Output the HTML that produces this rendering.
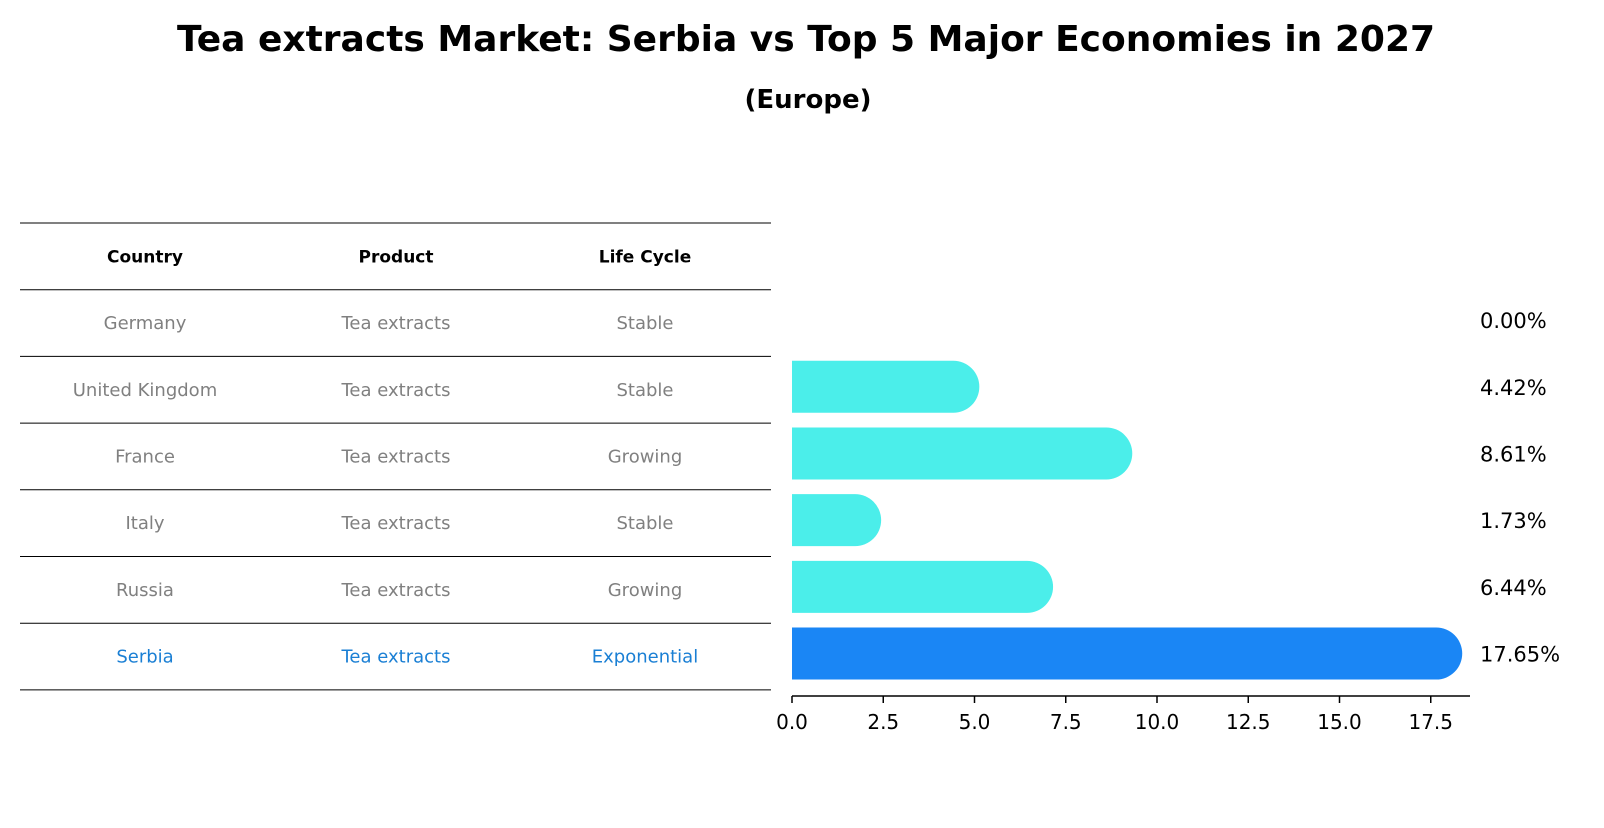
<!DOCTYPE html>
<html><head><meta charset="utf-8"><style>
body{margin:0;background:#fff;font-family:"Liberation Sans","DejaVu Sans",sans-serif;}
svg text{font-family:"DejaVu Sans","Liberation Sans",sans-serif;}
</style></head><body>
<svg width="1604" height="823" xmlns="http://www.w3.org/2000/svg">
<text x="806" y="51" text-anchor="middle" font-size="36" font-weight="bold">Tea extracts Market: Serbia vs Top 5 Major Economies in 2027</text>
<text x="808" y="108" text-anchor="middle" font-size="26" font-weight="bold">(Europe)</text>
<g id="table"></g>
<g id="bars"></g>
</svg>
<script>
const countries=["Germany","United Kingdom","France","Italy","Russia","Serbia"];
const products=["Tea extracts","Tea extracts","Tea extracts","Tea extracts","Tea extracts","Tea extracts"];
const lifecycles=["Stable","Stable","Growing","Stable","Growing","Exponential"];
const values=[0.00,4.42,8.61,1.73,6.44,17.65];
const ticks=[0,2.5,5,7.5,10,12.5,15,17.5];
const NS="http://www.w3.org/2000/svg";
function mk(t,a,p){const e=document.createElementNS(NS,t);for(const k in a)e.setAttribute(k,a[k]);p.appendChild(e);return e;}
const tb=document.getElementById('table');
const top0=223,rowH=66.7;
for(let i=0;i<=7;i++){const y=top0+i*rowH;
const l=mk('line',{x1:20,x2:771,y1:y,y2:y,stroke:'#000','stroke-width':1},tb);

}
const cx=[145,396,645];
["Country","Product","Life Cycle"].forEach((h,i)=>{const t=mk('text',{x:cx[i],y:top0+rowH/2+6,'text-anchor':'middle','font-size':17,'font-weight':'bold'},tb);t.textContent=h;

});
const rowY=i=>top0+rowH*(i+1)+rowH/2;
countries.forEach((c,i)=>{const col=i===countries.length-1?'#1a7fd4':'#808080';
[c,products[i],lifecycles[i]].forEach((v,j)=>{const t=mk('text',{x:cx[j],y:rowY(i)+6,'text-anchor':'middle','font-size':18,fill:col},tb);t.textContent=v;

});});
const bg=document.getElementById('bars');
const x0=792,ppu=36.5;const X=v=>x0+v*ppu;
const barH=52,r=26;
values.forEach((v,i)=>{const yc=rowY(i)-3;const last=i===values.length-1;
if(v>0){const w=X(v)-x0;
const p=mk('path',{d:`M${x0},${yc-barH/2} H${x0+w} A${r},${r} 0 0 1 ${x0+w},${yc+barH/2} H${x0} Z`,fill:last?'#1a86f5':'#4beeea'},bg);

}
const t=mk('text',{x:1480,y:yc+8,'font-size':21},bg);t.textContent=v.toFixed(2)+'%';

});
const ax=mk('line',{x1:x0,x2:1470,y1:696,y2:696,stroke:'#000','stroke-width':1.5},bg);


ticks.forEach(tv=>{const l=mk('line',{x1:X(tv),x2:X(tv),y1:696,y2:703,stroke:'#000','stroke-width':1.5},bg);


const t=mk('text',{x:X(tv),y:729,'text-anchor':'middle','font-size':20},bg);t.textContent=tv.toFixed(1);

});
</script>
</body></html>
